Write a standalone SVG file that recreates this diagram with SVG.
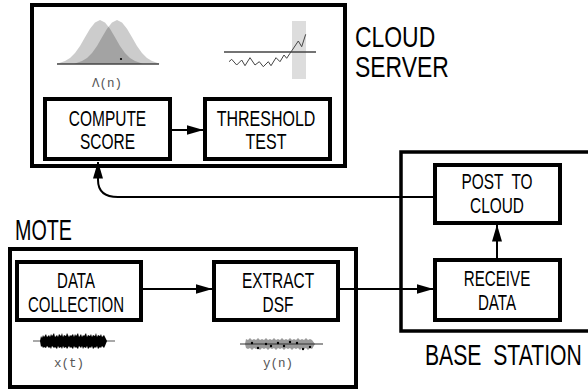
<svg xmlns="http://www.w3.org/2000/svg" width="588" height="390" viewBox="0 0 588 390">
  <style>
    .frame { fill: none; stroke: #000; stroke-width: 4; }
    .box { fill: #fff; stroke: #000; stroke-width: 4; }
    .lbl { font-family: "Liberation Sans", Arial, sans-serif; fill: #000; text-anchor: middle; font-size: 21.5px; }
    .big { font-family: "Liberation Sans", Arial, sans-serif; fill: #000; font-size: 29px; }
    .math { font-family: "Liberation Mono", "DejaVu Sans Mono", monospace; font-size: 12.5px; fill: #555; text-anchor: middle; }
    .wire { fill: none; stroke: #000; stroke-width: 2; }
    .axis { stroke: #444; stroke-width: 1.5; fill: none; }
  </style>
  <defs>
    <marker id="head" viewBox="0 0 17 10" refX="16.5" refY="5" markerWidth="17" markerHeight="10" markerUnits="userSpaceOnUse" orient="auto">
      <path d="M0,0 L17,5 L0,10 z" fill="#000"/>
    </marker>
  </defs>

  <!-- containers -->
  <g id="cloud-server">
    <rect class="frame" x="32" y="5" width="313" height="161"/>
    <text class="big" font-size="25.5" transform="translate(355,47) scale(0.79,1)"><tspan x="0" y="0">CLOUD</tspan><tspan x="0" y="30">SERVER</tspan></text>
  </g>
  <g id="base-station">
    <rect x="401" y="152" width="200" height="179" fill="none" stroke="#000" stroke-width="3.5"/>
    <text class="big" transform="translate(425,365) scale(0.73,1)" xml:space="preserve">BASE  STATION</text>
  </g>
  <g id="mote">
    <rect class="frame" x="10" y="249" width="346" height="138"/>
    <text class="big" transform="translate(15,240) scale(0.68,1)">MOTE</text>
  </g>

  <!-- score distributions -->
  <g id="score-plot">
    <path fill="#000" fill-opacity="0.2" d="M57,64 L60,62.7 65,61.1 70,58.1 75,53 80,45.9 85,37.3 90,28.8 95,22.4 100,20 105,22.4 110,28.8 115,37.3 120,45.9 125,53 130,58.1 135,61.1 140,62.7 143,64 Z"/>
    <path fill="#000" fill-opacity="0.2" d="M74,64 L77,62.7 82,61.1 87,58.1 92,53 97,45.9 102,37.3 107,28.8 112,22.4 117,20 122,22.4 127,28.8 132,37.3 137,45.9 142,53 147,58.1 152,61.1 157,62.7 160,64 Z"/>
    <line class="axis" x1="57" y1="64" x2="159" y2="64"/>
    <circle cx="121" cy="59" r="1.1" fill="#000"/>
    <text class="math" x="107" y="87">Λ(n)</text>
  </g>

  <!-- threshold crossing -->
  <g id="threshold-plot">
    <rect x="292" y="21" width="14" height="58" fill="#ddd"/>
    <line class="axis" x1="224" y1="52" x2="316" y2="52"/>
    <polyline fill="none" stroke="#444" stroke-width="1" points="229,61.7 231.7,59.3 236.7,65 241.7,60 245,65.7 250,57.7 255,65 259.3,61.7 263.3,66.7 268.3,61.7 271,65.7 276,57.7 280,61.7 284,55 286.7,58.3 290,53.3 292.3,50 298.3,41 301.7,46.7 305.7,34.3"/>
  </g>

  <!-- process blocks -->
  <g id="compute-score">
    <rect class="box" x="45" y="99" width="125" height="60"/>
    <text class="lbl" transform="translate(107.5,125.5) scale(0.72,1)"><tspan x="0" y="0">COMPUTE</tspan><tspan x="0" y="24">SCORE</tspan></text>
  </g>
  <g id="threshold-test">
    <rect class="box" x="205" y="99" width="125" height="60"/>
    <text class="lbl" transform="translate(266,125.5) scale(0.745,1)"><tspan x="0" y="0">THRESHOLD</tspan><tspan x="0" y="24">TEST</tspan></text>
  </g>
  <g id="post-to-cloud">
    <rect class="box" x="435" y="165" width="125" height="58"/>
    <text class="lbl" transform="translate(497,189) scale(0.717,1)" xml:space="preserve"><tspan x="0" y="0">POST  TO</tspan><tspan x="0" y="24.5">CLOUD</tspan></text>
  </g>
  <g id="receive-data">
    <rect class="box" x="435" y="260" width="125" height="60"/>
    <text class="lbl" transform="translate(497,286) scale(0.706,1)"><tspan x="0" y="0">RECEIVE</tspan><tspan x="0" y="24">DATA</tspan></text>
  </g>
  <g id="data-collection">
    <rect class="box" x="17" y="262" width="124" height="58"/>
    <text class="lbl" transform="translate(76,288) scale(0.7,1)"><tspan x="0" y="0">DATA</tspan><tspan x="0" y="24">COLLECTION</tspan></text>
  </g>
  <g id="extract-dsf">
    <rect class="box" x="214" y="262" width="124" height="58"/>
    <text class="lbl" transform="translate(278,288) scale(0.72,1)"><tspan x="0" y="0">EXTRACT</tspan><tspan x="0" y="24">DSF</tspan></text>
  </g>

  <!-- raw signal x(t) -->
  <g id="raw-signal">
    <line x1="33" y1="341" x2="115" y2="341" stroke="#555" stroke-width="1.2"/>
    <path fill="#000" d="M40,341 L41,336 42,338 43,335 44,337 46,334 47,337 49,335 50,337 51,334 52,336 54,333 55,337 57,335 58,337 59,334 61,336 62,333 63,337 64,335 66,336 67,333 69,337 70,335 71,336 73,334 74,337 75,334 76,336 78,333 79,337 81,334 82,337 83,335 84,336 86,333 87,337 88,335 90,336 91,334 92,337 93,335 95,336 96,333 97,337 98,335 100,336 101,334 102,337 104,335 105,337 107,341 105,346 104,348 102,346 101,348 100,347 98,349 97,346 96,348 95,347 93,349 92,346 91,348 90,347 88,349 87,346 86,348 84,347 83,349 82,346 81,348 79,346 78,349 76,347 75,348 74,346 73,349 71,347 70,348 69,346 67,349 66,347 64,348 63,346 62,349 61,347 59,348 58,346 57,349 55,347 54,348 52,346 51,349 50,347 49,348 47,346 46,348 44,347 43,348 42,346 41,347 Z"/>
    <text class="math" x="69" y="367">x(t)</text>
  </g>

  <!-- sampled features y(n) -->
  <g id="feature-signal">
    <path fill="#999" d="M245,344 L246,339 248,340 250,338 252,340 254,339 256,340 258,338 260,340 262,339 264,340 266,338 268,340 270,339 272,340 274,338 276,340 278,339 280,340 282,338 284,340 286,339 288,340 290,338 292,340 294,339 296,340 298,338 300,340 302,339 304,340 306,338 308,340 310,339 312,340 315,344 312,349 310,348 308,350 306,348 304,349 302,348 300,350 298,348 296,349 294,348 292,350 290,348 288,349 286,348 284,350 282,348 280,349 278,348 276,350 274,348 272,349 270,348 268,350 266,348 264,349 262,348 260,350 258,348 256,349 254,348 252,350 250,348 248,349 246,348 Z"/>
    <line x1="240" y1="344" x2="323" y2="344" stroke="#333" stroke-width="1.2"/>
    <g fill="#000">
      <circle cx="252" cy="343" r="1.2"/><circle cx="258" cy="348" r="1.2"/><circle cx="266" cy="344" r="1.2"/><circle cx="271" cy="346" r="1.2"/><circle cx="278" cy="343" r="1.2"/>
      <circle cx="284" cy="346" r="1.2"/><circle cx="290" cy="342" r="1.2"/><circle cx="297" cy="343" r="1.2"/><circle cx="303" cy="349" r="1.2"/><circle cx="310" cy="347" r="1.2"/>
    </g>
    <text class="math" x="278" y="367">y(n)</text>
  </g>

  <!-- connectors -->
  <g id="connectors">
    <path class="wire" marker-end="url(#head)" d="M172,130 H203"/>
    <path class="wire" marker-end="url(#head)" d="M143,289 H212"/>
    <path class="wire" marker-end="url(#head)" d="M340,289 H433"/>
    <path class="wire" marker-end="url(#head)" d="M497,258 V225"/>
    <path class="wire" marker-end="url(#head)" d="M433,197 H118 C105,197 98,191 98,180 V162"/>
  </g>
</svg>
